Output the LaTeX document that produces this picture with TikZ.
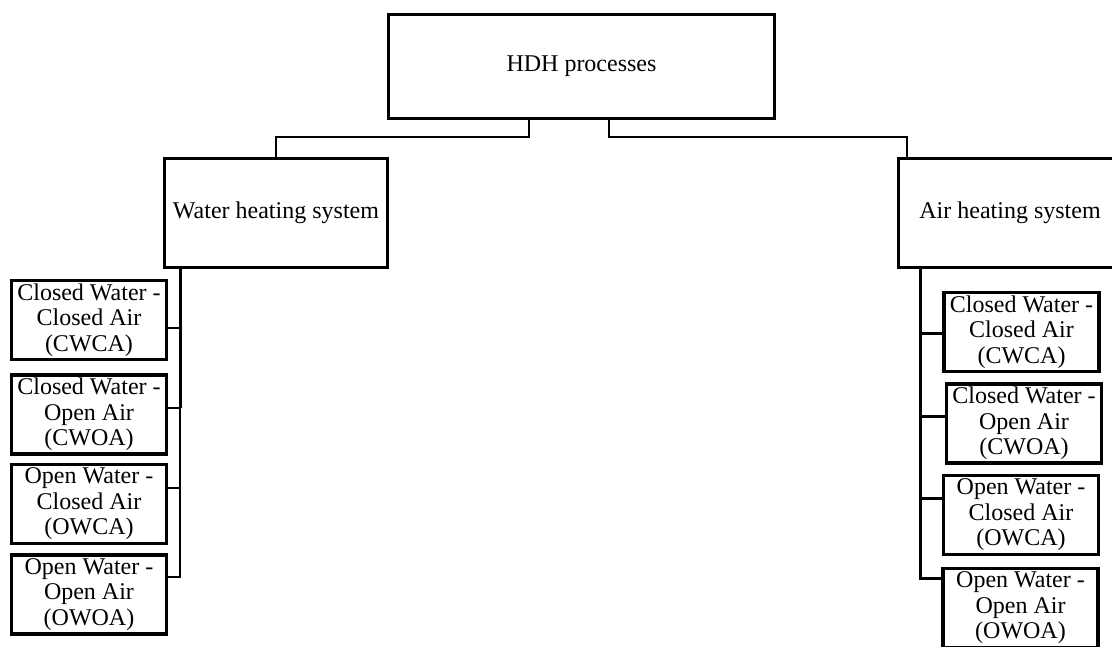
\documentclass[tikz,border=0pt]{standalone}
\usepackage{fontspec}
\setmainfont{Liberation Serif}
\usepackage{tikz}
\usetikzlibrary{shapes,arrows}

\begin{document}
\begin{tikzpicture}[x=1pt,y=-1pt,
        box/.style={draw, line width=3.5pt, align=center, inner sep=0pt,
            font=\fontsize{24}{25.5}\selectfont},
        smallbox/.style={box, minimum width=155pt, minimum height=79pt},
        link/.style={line width=2pt}]
        %--- Arguments ----
        \def \wx {180} % trunk of water side
        \def \ax {920} % trunk of air side
        \useasboundingbox (0,0) rectangle (1112,646);
        %--- Top boxes ---
        \node [box, minimum width=386pt, minimum height=104pt] (hdh) at (581.5,66.5) {HDH processes};
        \node [box, minimum width=223pt, minimum height=109pt] (water) at (276,213) {Water heating system};
        \node [box, minimum width=223pt, minimum height=109pt] (air) at (1010,213) {Air heating system};
        %--- Water side boxes ---
        \node [smallbox] (lcwca) at (89,320) {Closed Water -\\Closed Air\\(CWCA)};
        \node [smallbox] (lcwoa) at (89,414.5) {Closed Water -\\Open Air\\(CWOA)};
        \node [smallbox] (lowca) at (89,504) {Open Water -\\Closed Air\\(OWCA)};
        \node [smallbox] (lowoa) at (89,594.5) {Open Water -\\Open Air\\(OWOA)};
        %--- Air side boxes ---
        \node [smallbox] (rcwca) at (1021.5,332) {Closed Water -\\Closed Air\\(CWCA)};
        \node [smallbox] (rcwoa) at (1024,423.5) {Closed Water -\\Open Air\\(CWOA)};
        \node [smallbox] (rowca) at (1021,515) {Open Water -\\Closed Air\\(OWCA)};
        \node [smallbox] (rowoa) at (1020.5,608) {Open Water -\\Open Air\\(OWOA)};
        %--- Lines ---
        % from the top box
        \draw [link] ([xshift=-52.5pt]hdh.south) -- ++(0,17) -| (water.north);
        \draw [link] ([xshift=27.5pt]hdh.south) -- ++(0,17) -| ([xshift=-103pt]air.north);
        % water side
        \coordinate (wtop) at (water.south -| \wx,0);
        \draw [line width=3pt] (wtop) -- (\wx,408);
        \foreach \name/\dy in {lcwca/-8, lcwoa/6.5, lowca/16, lowoa/17.5}
            \draw [link] (wtop) |- ([yshift=\dy pt]\name.east);
        % air side
        \coordinate (atop) at (air.south -| \ax,0);
        \foreach \name/\dy in {rcwca/-1, rcwoa/7.5, rowca/17, rowoa/30}
            \draw [line width=3pt] (atop) |- ([yshift=\dy pt]\name.west);
    \end{tikzpicture}
\end{document}
